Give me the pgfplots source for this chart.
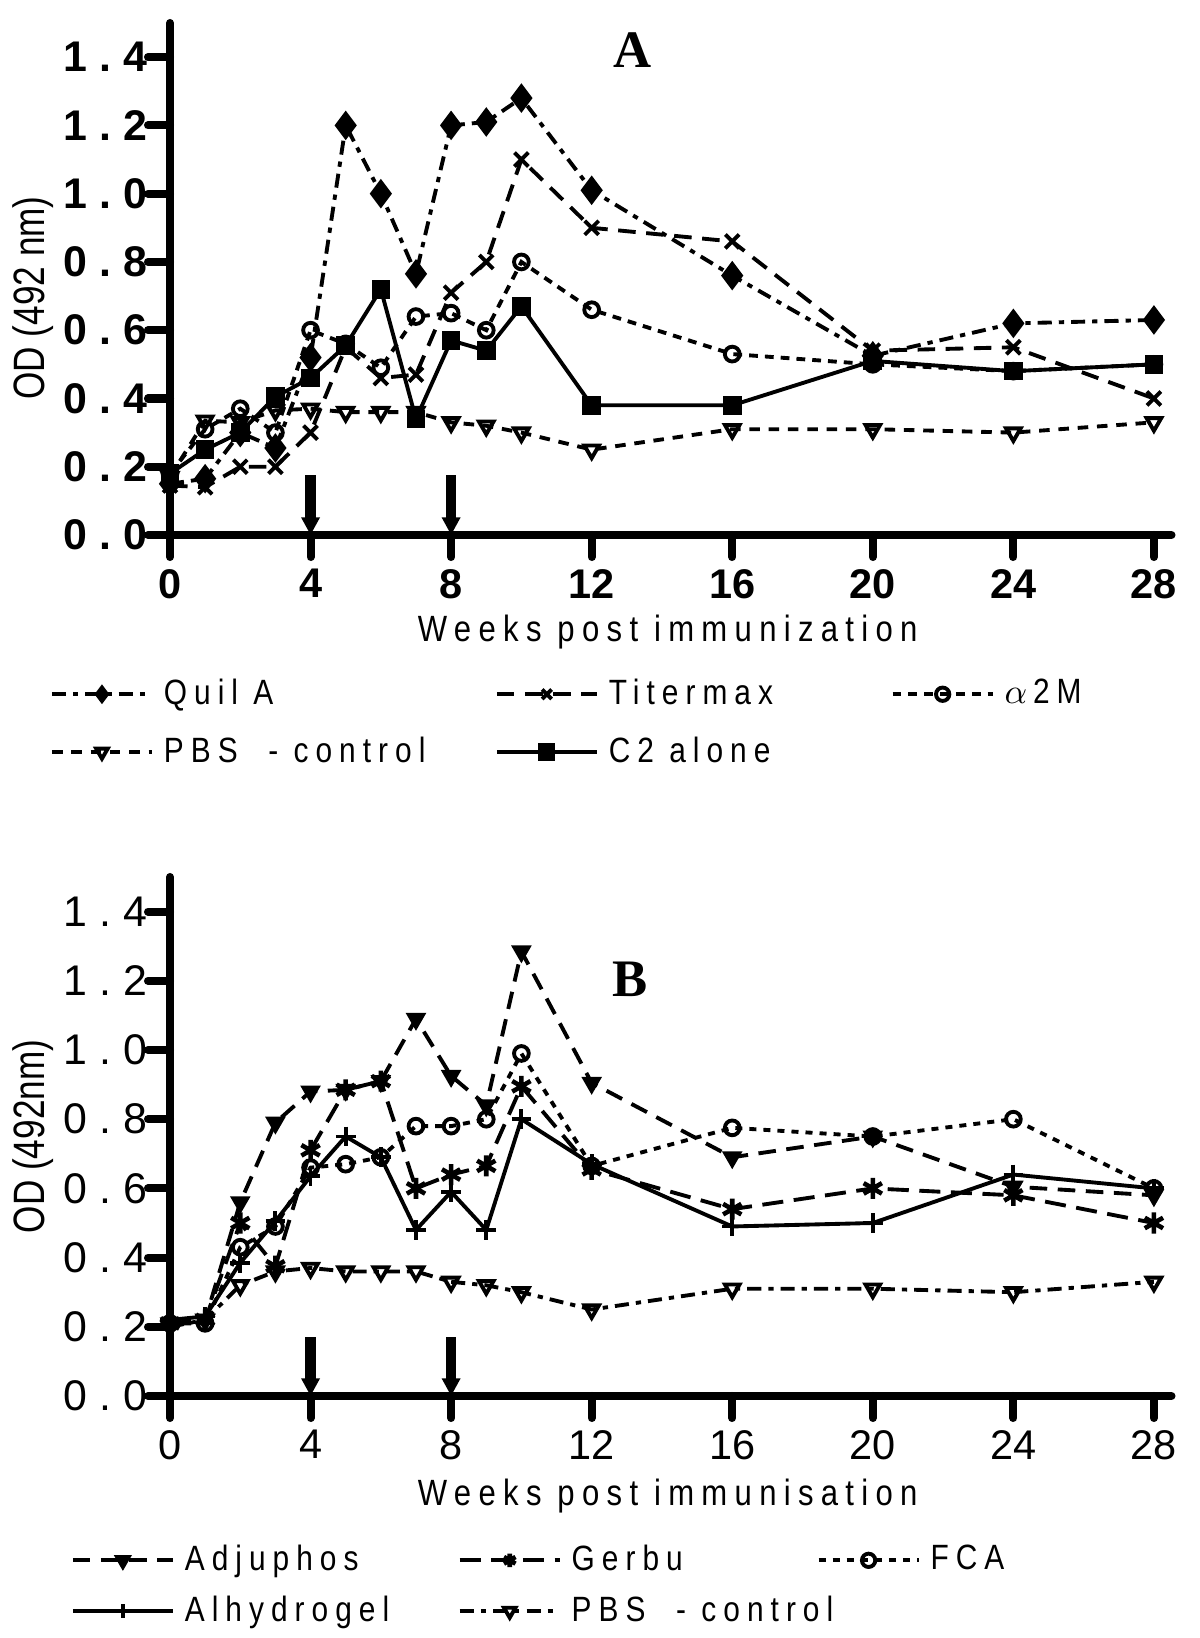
\documentclass[border=0pt]{standalone}
\usepackage{fontspec}
\setmainfont{Liberation Sans}
\newfontfamily\spacedfont[LetterSpace=20,FakeStretch=0.85]{Liberation Sans}
\newfontfamily\tickfont[LetterSpace=28]{Liberation Sans}
\newfontfamily\ylabfont[FakeStretch=0.8]{Liberation Sans}
\newfontfamily\titlefont{Liberation Serif}
\usepackage{pgfplots}
\pgfplotsset{compat=1.18}
\usetikzlibrary{arrows.meta}

\pgfplotsset{
  panel/.style={
    scale only axis, width=10.015cm,
    xmin=0, xmax=28.5, ymin=0, ymax=1.5,
    axis x line*=bottom, axis y line*=left,
    axis line style={-, line width=2.3pt, line cap=round},
    xtick={0,4,8,12,16,20,24,28},
    xticklabels={0,4,8,12,16,20,24,28},
    ytick={0,0.2,0.4,0.6,0.8,1.0,1.2,1.4},
    yticklabels={0.0,0.2,0.4,0.6,0.8,1.0,1.2,1.4},
    tick align=outside, major tick length=0.22cm,
    major tick style={line width=2.3pt, black, line cap=round},
    clip=false,
    legend columns=3, legend cell align=left,
    legend image code/.code={\draw[mark repeat=2,mark phase=2,mark size=1.9pt]
      plot coordinates {(0cm,0cm) (0.5cm,0cm) (1cm,0cm)};},
  },
  arr/.style={line width=3pt, black, solid, -{Triangle[width=5pt,length=5pt]}, forget plot},
}

\begin{document}
\begin{tikzpicture}
\useasboundingbox (0,0) rectangle (12cm,16.38cm);

% ---------------- Panel A ----------------
\begin{axis}[panel,
  height=5.12cm,
  at={(1.70cm,11.03cm)}, anchor=south west,
  xticklabel style={font=\bfseries\fontsize{11.8}{13}\selectfont},
  yticklabel style={font=\tickfont\bfseries\fontsize{12.2}{14}\selectfont, inner xsep=0pt},
  xlabel={Weeks post immunization},
  xlabel style={font=\spacedfont\fontsize{10.4}{12}\selectfont, at={(rel axis cs:0.497,0)}, anchor=center, yshift=-0.97cm},
  ylabel={OD (492 nm)},
  ylabel style={font=\ylabfont\fontsize{12.5}{14}\selectfont, at={(rel axis cs:-0.1365,0.463)}, anchor=center},
  legend style={at={(rel axis cs:-0.1198,-0.281)}, anchor=north west, draw=none, fill=none,
    inner sep=0pt, outer sep=0pt, column sep=0pt, row sep=0.27cm,
    font=\spacedfont\fontsize{10}{12}\selectfont, nodes={inner sep=0pt}},
]
\addplot[black, line width=1.1pt, dash pattern=on 4pt off 2pt on 1.5pt off 2pt,
  mark=diamond*, mark size=3.3pt, mark options={solid, fill=black}]
  coordinates {(0,0.15)(1,0.165)(2,0.30)(3,0.255)(4,0.52)(5,1.20)(6,1.00)(7,0.765)(8,1.20)(9,1.21)(10,1.28)(12,1.01)(16,0.76)(20,0.525)(24,0.62)(28,0.63)};
\addlegendentry{\makebox[3.41cm][l]{\hspace{0.1cm}Quil A}}
\addplot[black, line width=1.1pt, dash pattern=on 5pt off 3pt,
  mark=x, mark size=2.8pt, mark options={solid, line width=1.1pt}]
  coordinates {(0,0.145)(1,0.14)(2,0.20)(3,0.20)(4,0.30)(5,0.55)(6,0.46)(7,0.47)(8,0.71)(9,0.80)(10,1.10)(12,0.90)(16,0.86)(20,0.54)(24,0.55)(28,0.40)};
\addlegendentry{\makebox[2.92cm][l]{\hspace{0.1cm}Titermax}}
\addplot[black, line width=1.1pt, dash pattern=on 2.5pt off 2pt,
  mark=o, mark size=2.1pt, mark options={solid, fill=white, line width=1.1pt}]
  coordinates {(0,0.18)(1,0.31)(2,0.37)(3,0.30)(4,0.60)(5,0.56)(6,0.49)(7,0.64)(8,0.65)(9,0.60)(10,0.80)(12,0.66)(16,0.53)(20,0.50)(24,0.48)(28,0.50)};
\addlegendentry{\hspace{0.1cm}$\alpha$\,2M}
\addplot[black, line width=1.1pt, dash pattern=on 3pt off 2.5pt,
  mark=triangle, mark size=2.4pt, mark options={solid, fill=white, rotate=180, line width=1.1pt}]
  coordinates {(0,0.17)(1,0.335)(2,0.33)(3,0.365)(4,0.37)(5,0.36)(6,0.36)(7,0.36)(8,0.33)(9,0.32)(10,0.30)(12,0.25)(16,0.31)(20,0.31)(24,0.30)(28,0.33)};
\addlegendentry{\makebox[3.41cm][l]{\hspace{0.1cm}PBS\ \ -\ control}}
\addplot[black, line width=1.1pt, solid,
  mark=square*, mark size=2.1pt, mark options={solid, fill=black}]
  coordinates {(0,0.18)(1,0.25)(2,0.30)(3,0.405)(4,0.46)(5,0.555)(6,0.72)(7,0.34)(8,0.57)(9,0.54)(10,0.67)(12,0.38)(16,0.38)(20,0.51)(24,0.48)(28,0.50)};
\addlegendentry{\makebox[2.92cm][l]{\hspace{0.1cm}C2 alone}}
\addplot[arr] coordinates {(4,0.175) (4,0)};
\addplot[arr] coordinates {(8,0.175) (8,0)};
\node[font=\titlefont\bfseries\fontsize{15}{18}\selectfont] at (axis cs:13.15,1.42) {A};
\end{axis}

% ---------------- Panel B ----------------
\begin{axis}[panel,
  height=5.19cm,
  at={(1.70cm,2.42cm)}, anchor=south west,
  xticklabel style={font=\fontsize{11.8}{13}\selectfont},
  yticklabel style={font=\tickfont\fontsize{12.2}{14}\selectfont, inner xsep=0pt},
  xlabel={Weeks post immunisation},
  xlabel style={font=\spacedfont\fontsize{10.4}{12}\selectfont, at={(rel axis cs:0.497,0)}, anchor=center, yshift=-1.0cm},
  ylabel={OD (492nm)},
  ylabel style={font=\ylabfont\fontsize{12.5}{14}\selectfont, at={(rel axis cs:-0.1365,0.50)}, anchor=center},
  legend style={at={(rel axis cs:-0.0989,-0.287)}, anchor=north west, draw=none, fill=none,
    inner sep=0pt, outer sep=0pt, column sep=0pt, row sep=0.2cm,
    font=\spacedfont\fontsize{10}{12}\selectfont, nodes={inner sep=0pt}},
]
\addplot[black, line width=1.1pt, dash pattern=on 5pt off 3pt,
  mark=triangle*, mark size=2.3pt, mark options={solid, fill=black, rotate=180}]
  coordinates {(0,0.21)(1,0.22)(2,0.56)(3,0.79)(4,0.88)(5,0.885)(6,0.91)(7,1.09)(8,0.925)(9,0.84)(10,1.285)(12,0.905)(16,0.69)(20,0.75)(24,0.605)(28,0.58)};
\addlegendentry{\makebox[2.83cm][l]{\hspace{0.1cm}Adjuphos}}
\addplot[black, line width=1.1pt, dash pattern=on 6pt off 3pt,
  mark=asterisk, mark size=3pt, mark options={solid, line width=1.3pt}]
  coordinates {(0,0.21)(1,0.22)(2,0.50)(3,0.375)(4,0.71)(5,0.885)(6,0.91)(7,0.60)(8,0.64)(9,0.665)(10,0.895)(12,0.655)(16,0.54)(20,0.60)(24,0.58)(28,0.50)};
\addlegendentry{\makebox[2.55cm][l]{\hspace{0.1cm}Gerbu}}
\addplot[black, line width=1.1pt, dash pattern=on 2pt off 2pt,
  mark=o, mark size=2.1pt, mark options={solid, fill=white, line width=1.1pt}]
  coordinates {(0,0.21)(1,0.21)(2,0.43)(3,0.49)(4,0.66)(5,0.67)(6,0.69)(7,0.78)(8,0.78)(9,0.80)(10,0.99)(12,0.665)(16,0.775)(20,0.75)(24,0.80)(28,0.60)};
\addlegendentry{\hspace{0.1cm}FCA}
\addplot[black, line width=1.1pt, solid,
  mark=+, mark size=2.8pt, mark options={solid, line width=1.1pt}]
  coordinates {(0,0.22)(1,0.23)(2,0.385)(3,0.505)(4,0.635)(5,0.75)(6,0.69)(7,0.48)(8,0.59)(9,0.48)(10,0.80)(12,0.67)(16,0.49)(20,0.50)(24,0.64)(28,0.60)};
\addlegendentry{\makebox[2.83cm][l]{\hspace{0.1cm}Alhydrogel}}
\addplot[black, line width=1.1pt, dash pattern=on 4pt off 2pt on 1.5pt off 2pt,
  mark=triangle, mark size=2.4pt, mark options={solid, fill=white, rotate=180, line width=1.1pt}]
  coordinates {(0,0.20)(1,0.22)(2,0.32)(3,0.36)(4,0.37)(5,0.36)(6,0.36)(7,0.36)(8,0.33)(9,0.32)(10,0.30)(12,0.25)(16,0.31)(20,0.31)(24,0.30)(28,0.33)};
\addlegendentry{\makebox[2.55cm][l]{\hspace{0.1cm}PBS\ \ -\ control}}
\addplot[arr] coordinates {(4,0.17) (4,0)};
\addplot[arr] coordinates {(8,0.17) (8,0)};
\node[font=\titlefont\bfseries\fontsize{15}{18}\selectfont] at (axis cs:13.1,1.205) {B};
\end{axis}
\end{tikzpicture}
\end{document}
